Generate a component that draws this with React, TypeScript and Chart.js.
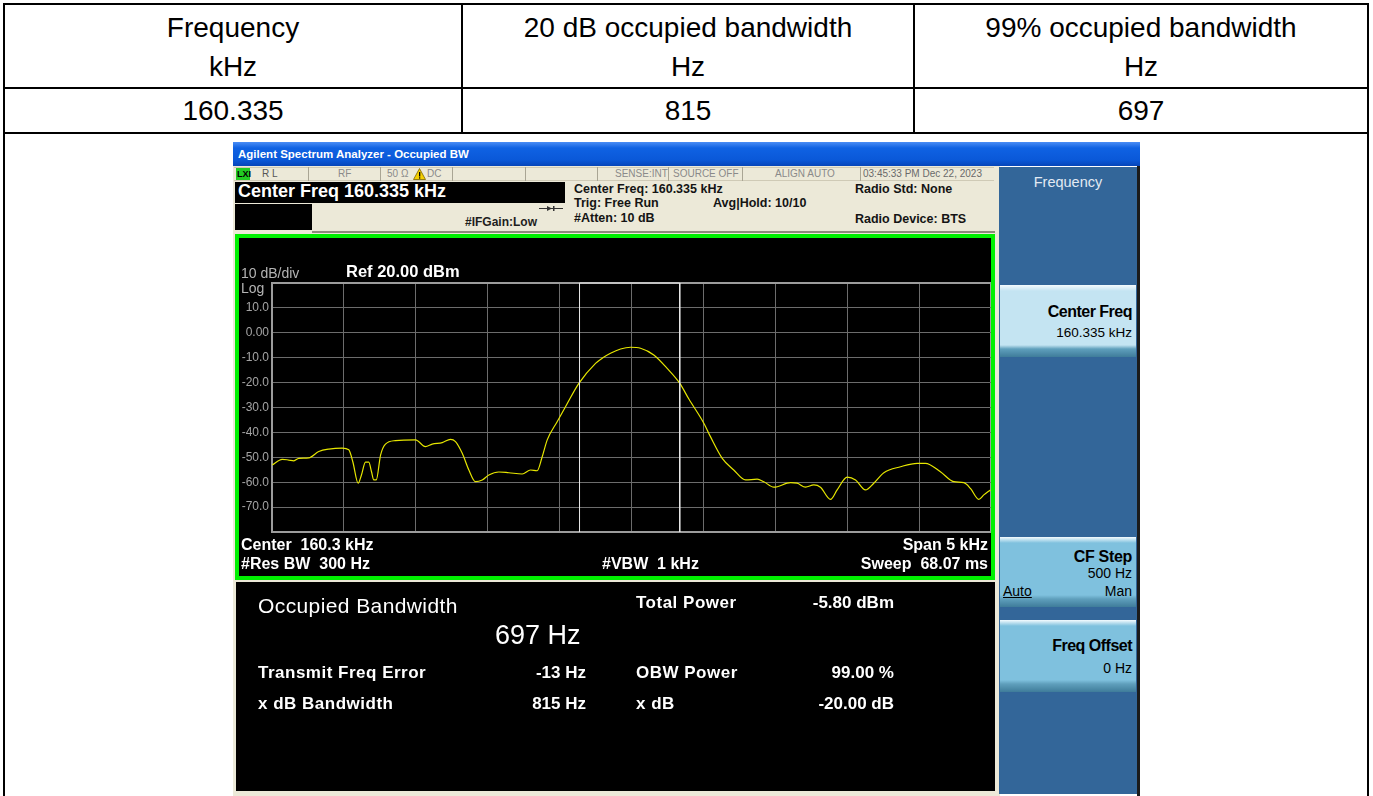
import React, { useEffect, useRef } from "react";
import { Chart, registerables } from "chart.js";

Chart.register(...registerables);

// ---------- data ----------
const tableHeaderLine1 = ["Frequency", "20 dB occupied bandwidth", "99% occupied bandwidth"];
const tableHeaderLine2 = ["kHz", "Hz", "Hz"];
const tableValues = ["160.335", "815", "697"];

const CENTER_KHZ = 160.335;
const SPAN_HZ = 5000;
const REF_DBM = 20;
const DB_PER_DIV = 10;

const traceFreqKHz = [
  157.836, 157.906, 157.952, 157.987, 158.021, 158.091, 158.16, 158.23, 158.323, 158.369,
  158.397, 158.434, 158.457, 158.485, 158.508, 158.527, 158.543, 158.56, 158.59, 158.624,
  158.694, 158.833, 158.902, 158.949, 159.019, 159.076, 159.111, 159.158, 159.204, 159.25,
  159.297, 159.343, 159.412, 159.482, 159.575, 159.633, 159.679, 159.714, 159.749, 159.818,
  159.876, 159.969, 160.085, 160.136, 160.189, 160.259, 160.328, 160.398, 160.49, 160.583,
  160.671, 160.733, 160.838, 160.884, 160.966, 161.046, 161.128, 161.209, 161.255, 161.325,
  161.441, 161.487, 161.545, 161.603, 161.649, 161.719, 161.765, 161.835, 161.893, 161.962,
  162.02, 162.09, 162.206, 162.322, 162.379, 162.483, 162.576, 162.646, 162.692, 162.75,
  162.785, 162.831,
];
const traceLevelDbm = [
  -53.1, -50.8, -51.1, -51.4, -50.4, -50.2, -47.7, -46.7, -46.3, -47.0,
  -51.8, -60.4, -57.1, -51.9, -51.9, -55.8, -59.1, -59.1, -49.1, -44.7,
  -43.3, -43.0, -45.7, -44.7, -44.1, -42.8, -43.7, -48.4, -55.1, -59.8,
  -59.1, -57.1, -55.9, -56.2, -56.7, -55.1, -55.4, -49.8, -43.0, -35.7,
  -29.7, -20.3, -12.3, -10.0, -8.2, -6.5, -5.8, -6.2, -8.9, -14.3,
  -20.3, -26.5, -36.3, -41.7, -50.4, -55.1, -59.1, -58.8, -59.8, -62.0,
  -60.2, -60.4, -62.0, -61.1, -62.0, -66.9, -63.1, -58.0, -59.1, -63.1,
  -60.4, -56.2, -53.8, -52.4, -52.4, -55.8, -59.8, -60.2, -62.5, -66.9,
  -65.1, -63.1,
];
const obwEdgesKHz = [159.9735, 160.6705];

// ---------- helpers ----------
const W = 1373;
const SANS = '"Liberation Sans", Arial, sans-serif';

type TP = {
  x: number; y: number; s: number; t: string; c?: string; w?: number;
  a?: "l" | "r" | "c"; ls?: number; u?: boolean;
};
function T({ x, y, s, t, c = "#000", w = 400, a = "l", ls = 0, u = false }: TP) {
  const st: React.CSSProperties = {
    position: "absolute", top: y - 0.59 * s, fontSize: s, lineHeight: `${1.2 * s}px`,
    color: c, fontWeight: w, fontFamily: SANS, whiteSpace: "pre", letterSpacing: ls,
    textDecoration: u ? "underline" : "none",
  };
  if (a === "l") st.left = x;
  else if (a === "r") st.right = W - x;
  else { st.left = x; st.transform = "translateX(-50%)"; }
  return <div style={st}>{t}</div>;
}
function R({ x, y, w, h, bg, style }: { x: number; y: number; w: number; h: number; bg: string; style?: React.CSSProperties }) {
  return <div style={{ position: "absolute", left: x, top: y, width: w, height: h, background: bg, ...style }} />;
}

function Plot() {
  const ref = useRef<HTMLCanvasElement | null>(null);
  useEffect(() => {
    const cv = ref.current;
    if (!cv) return;
    const trace = traceFreqKHz.map((f, i) => ({ x: (f - CENTER_KHZ) * 1000, y: traceLevelDbm[i] }));
    const yMin = REF_DBM - DB_PER_DIV * 10;
    const l = (obwEdgesKHz[0] - CENTER_KHZ) * 1000;
    const r = (obwEdgesKHz[1] - CENTER_KHZ) * 1000;
    const obw = [
      { x: l, y: yMin }, { x: l, y: REF_DBM }, { x: r, y: REF_DBM }, { x: r, y: yMin },
    ];
    const frameColor = "#9c9c9c";
    const gridColor = "#6c6c6c";
    const chart = new Chart(cv, {
      type: "line",
      data: {
        datasets: [
          {
            data: trace, borderColor: "#e6e600", borderWidth: 1.2, pointRadius: 0,
            cubicInterpolationMode: "monotone", order: 2,
          },
          {
            data: obw, borderColor: "#e8e8e8", borderWidth: 1, pointRadius: 0,
            tension: 0, order: 1, clip: false as any,
          },
        ],
      },
      options: {
        animation: false,
        responsive: false,
        maintainAspectRatio: false,
        events: [],
        layout: { padding: { top: 45, right: 0, bottom: 44, left: 0 } },
        plugins: { legend: { display: false }, tooltip: { enabled: false } },
        scales: {
          x: {
            type: "linear", min: -SPAN_HZ / 2, max: SPAN_HZ / 2,
            ticks: { display: false, stepSize: SPAN_HZ / 10 },
            grid: {
              drawTicks: false,
              color: (ctx: any) => (ctx.tick && Math.abs(ctx.tick.value) === SPAN_HZ / 2 ? frameColor : gridColor),
              lineWidth: (ctx: any) => (ctx.tick && Math.abs(ctx.tick.value) === SPAN_HZ / 2 ? 2 : 1),
            },
            border: { color: frameColor, width: 2 },
            afterFit: (s: any) => { s.height = 0; },
          },
          y: {
            min: yMin, max: REF_DBM,
            ticks: {
              stepSize: DB_PER_DIV, color: "#a4a4a4", padding: 3,
              font: { family: "Liberation Sans", size: 12 },
              callback: (v: any) => {
                const n = Number(v);
                if (n === REF_DBM || n === yMin) return "";
                return n === 0 ? "0.00" : n.toFixed(1);
              },
            },
            grid: {
              drawTicks: false,
              color: (ctx: any) => (ctx.tick && (ctx.tick.value === REF_DBM || ctx.tick.value === yMin) ? frameColor : gridColor),
              lineWidth: (ctx: any) => (ctx.tick && (ctx.tick.value === REF_DBM || ctx.tick.value === yMin) ? 2 : 1),
            },
            border: { color: frameColor, width: 2 },
            afterFit: (s: any) => { s.width = 33; },
          },
        },
      },
    });
    return () => chart.destroy();
  }, []);
  return (
    <canvas ref={ref} width={752} height={338}
      style={{ position: "absolute", left: 0, top: 0, width: 752, height: 338, display: "block" }} />
  );
}

export default function App() {
  const colCenters = [233, 688, 1141];
  const line = "#000";
  const beige = "#ece9d8";
  const statusSeps = [308, 380, 452, 525, 597, 668, 742, 860];
  const btn = (y: number, h: number, body: string) => (
    <div style={{
      position: "absolute", left: 1000, top: y, width: 136, height: h,
      background: `linear-gradient(to bottom, #f4fbfe 0px, ${body} 6px, ${body} ${h - 12}px, #5f9fbc ${h - 8}px, #3f7c9a ${h}px)`,
    }} />
  );
  return (
    <div style={{ position: "absolute", left: 0, top: 0, width: W, height: 796, overflow: "hidden", background: "#fff", fontFamily: SANS }}>
      {/* table lines */}
      <R x={3} y={3} w={1366} h={2} bg={line} />
      <R x={3} y={87} w={1366} h={2} bg={line} />
      <R x={3} y={132} w={1366} h={2} bg={line} />
      <R x={3} y={3} w={2} h={800} bg={line} />
      <R x={1367} y={3} w={2} h={800} bg={line} />
      <R x={461} y={3} w={2} h={130} bg={line} />
      <R x={913} y={3} w={2} h={130} bg={line} />
      {tableHeaderLine1.map((t, i) => <T key={"h1" + i} x={colCenters[i]} y={28} s={28} t={t} a="c" />)}
      {tableHeaderLine2.map((t, i) => <T key={"h2" + i} x={colCenters[i]} y={67} s={28} t={t} a="c" />)}
      {tableValues.map((t, i) => <T key={"v" + i} x={colCenters[i]} y={111} s={28} t={t} a="c" />)}

      {/* analyzer window */}
      <R x={233} y={142} w={907} h={24} bg="linear-gradient(to bottom, #4a8df5 0%, #0f62e3 25%, #0a58d8 75%, #0645b9 100%)" />
      <T x={238} y={155} s={11.5} t="Agilent Spectrum Analyzer - Occupied BW" c="#fff" w={700} />
      <R x={233} y={166} w={767} h={630} bg={beige} />
      <R x={1137} y={166} w={3} h={630} bg="#1b1b1b" />
      <R x={999} y={167} w={138} h={627} bg="#336699" />
      {btn(285, 72, "#c4e4f2")}
      {btn(537, 70, "#7fc1de")}
      {btn(620, 72, "#7fc1de")}
      <T x={1068} y={183} s={14.5} t="Frequency" c="#e2eaf3" a="c" />
      <T x={1132} y={311} s={16} t="Center Freq" w={700} a="r" ls={-0.5} />
      <T x={1132} y={333} s={13.5} t="160.335 kHz" a="r" />
      <T x={1132} y={556} s={16} t="CF Step" w={700} a="r" ls={-0.3} />
      <T x={1132} y={573} s={14} t="500 Hz" a="r" />
      <T x={1003} y={591} s={14} t="Auto" u />
      <T x={1132} y={591} s={14} t="Man" a="r" />
      <T x={1132} y={645} s={16} t="Freq Offset" w={700} a="r" ls={-0.5} />
      <T x={1132} y={668} s={14} t="0 Hz" a="r" />

      {/* status row */}
      <R x={234} y={167} w={760} h={1} bg="#cfcab6" />
      <R x={234} y={180} w={760} h={1} bg="#cfcab6" />
      {statusSeps.map((x) => <R key={"s" + x} x={x} y={167} w={1} h={14} bg="#a9a594" />)}
      <R x={236} y={168} w={14} h={12} bg="#22cc22" />
      <T x={237} y={174} s={9} t="LXI" c="#000" w={700} />
      <T x={262} y={174} s={10} t="R L" c="#555" />
      <T x={338} y={174} s={10} t="RF" c="#8a8a8a" />
      <T x={387} y={174} s={10} t="50 Ω" c="#8a8a8a" />
      <svg style={{ position: "absolute", left: 413, top: 168 }} width={13} height={12}>
        <polygon points="6.5,0.5 12.5,11.5 0.5,11.5" fill="#f5d000" stroke="#7a6400" strokeWidth={0.8} />
        <rect x={6} y={4} width={1.3} height={4.5} fill="#000" />
        <rect x={6} y={9.3} width={1.3} height={1.3} fill="#000" />
      </svg>
      <T x={427} y={174} s={10} t="DC" c="#8a8a8a" />
      <T x={615} y={174} s={10} t="SENSE:INT" c="#8a8a8a" />
      <T x={673} y={174} s={10} t="SOURCE OFF" c="#8a8a8a" />
      <T x={775} y={174} s={10} t="ALIGN AUTO" c="#8a8a8a" />
      <T x={863} y={174} s={10} t="03:45:33 PM Dec 22, 2023" c="#6a6a6a" />

      {/* measurement header */}
      <R x={235} y={182} w={330} h={21} bg="#000" />
      <T x={238} y={192} s={18} t="Center Freq 160.335 kHz" c="#fff" w={700} />
      <R x={235} y={204} w={77} h={26} bg="#000" />
      <T x={465} y={222} s={12} t="#IFGain:Low" c="#1e1e1e" w={700} />
      <svg style={{ position: "absolute", left: 539, top: 205 }} width={24} height={7}>
        <line x1={0} y1={3.5} x2={24} y2={3.5} stroke="#333" strokeWidth={1} />
        <polygon points="8,1 13,3.5 8,6" fill="#333" />
        <rect x={14} y={1} width={1.5} height={5} fill="#333" />
      </svg>
      <T x={574} y={189} s={12.5} t="Center Freq: 160.335 kHz" c="#141414" w={700} />
      <T x={574} y={203} s={12.5} t="Trig: Free Run" c="#141414" w={700} />
      <T x={574} y={218} s={12.5} t="#Atten: 10 dB" c="#141414" w={700} />
      <T x={713} y={203} s={12.5} t="Avg|Hold: 10/10" c="#141414" w={700} />
      <T x={855} y={189} s={12.5} t="Radio Std: None" c="#141414" w={700} />
      <T x={855} y={219} s={12.5} t="Radio Device: BTS" c="#141414" w={700} />
      <R x={312} y={231} w={683} h={2} bg="#8d8a7c" />

      {/* plot panel */}
      <div style={{ position: "absolute", left: 235, top: 234, width: 760, height: 346, boxSizing: "border-box", border: "4px solid #00f000", background: "#000" }}>
        <Plot />
      </div>
      <T x={241} y={273} s={14} t="10 dB/div" c="#b4b4b4" />
      <T x={241} y={288} s={14} t="Log" c="#b4b4b4" />
      <T x={346} y={272} s={16.5} t="Ref 20.00 dBm" c="#fff" w={700} />
      <T x={241} y={544} s={16} t="Center  160.3 kHz" c="#fff" w={700} />
      <T x={241} y={563} s={16} t="#Res BW  300 Hz" c="#fff" w={700} />
      <T x={602} y={563} s={16} t="#VBW  1 kHz" c="#fff" w={700} />
      <T x={988} y={544} s={16} t="Span 5 kHz" c="#fff" w={700} a="r" />
      <T x={988} y={563} s={16} t="Sweep  68.07 ms" c="#fff" w={700} a="r" />

      {/* result panel */}
      <R x={236} y={582} w={759} h={209} bg="#000" />
      <T x={258} y={605} s={21} t="Occupied Bandwidth" c="#fff" ls={0.4} />
      <T x={495} y={635} s={27} t="697 Hz" c="#fff" />
      <T x={258} y={673} s={17} t="Transmit Freq Error" c="#fff" w={700} ls={0.5} />
      <T x={586} y={673} s={17} t="-13 Hz" c="#fff" w={700} a="r" />
      <T x={258} y={704} s={17} t="x dB Bandwidth" c="#fff" w={700} ls={0.5} />
      <T x={586} y={704} s={17} t="815 Hz" c="#fff" w={700} a="r" />
      <T x={636} y={603} s={17} t="Total Power" c="#fff" w={700} ls={0.5} />
      <T x={894} y={603} s={17} t="-5.80 dBm" c="#fff" w={700} a="r" />
      <T x={636} y={673} s={17} t="OBW Power" c="#fff" w={700} ls={0.5} />
      <T x={894} y={673} s={17} t="99.00 %" c="#fff" w={700} a="r" />
      <T x={636} y={704} s={17} t="x dB" c="#fff" w={700} ls={0.5} />
      <T x={894} y={704} s={17} t="-20.00 dB" c="#fff" w={700} a="r" />
    </div>
  );
}
